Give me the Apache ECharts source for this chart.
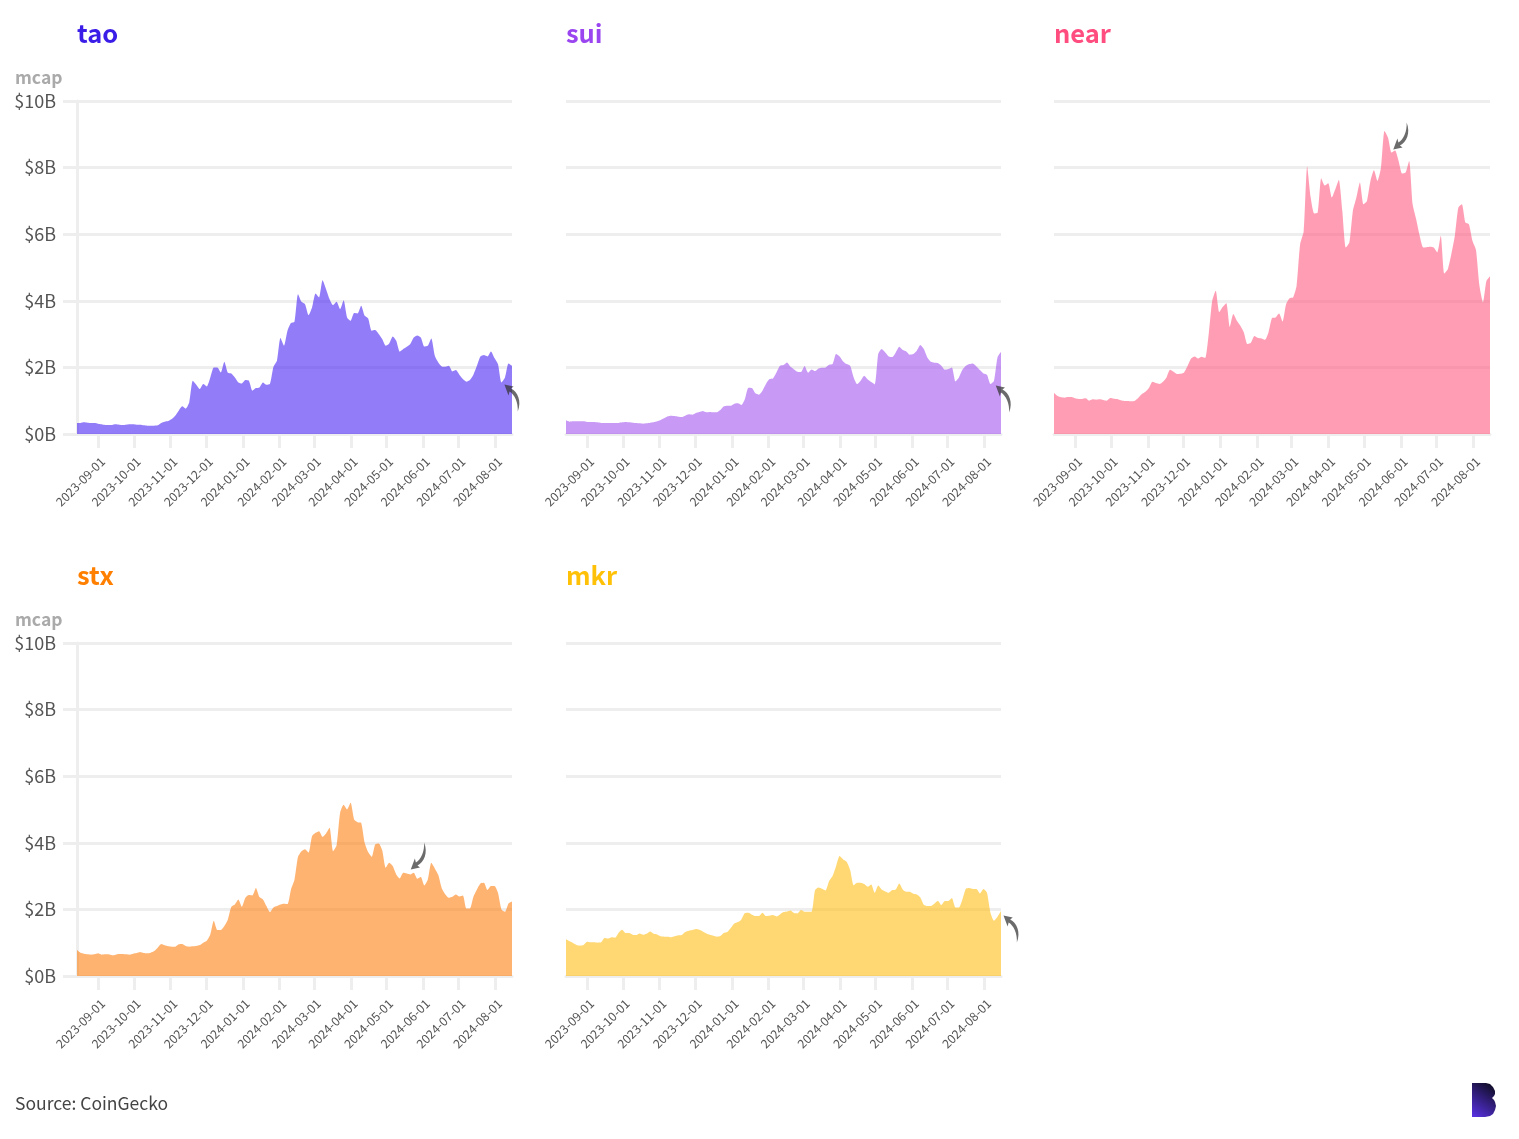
<!DOCTYPE html>
<html lang="en">
<head>
<meta charset="UTF-8">
<title>mcap</title>
<script src="https://cdn.jsdelivr.net/npm/echarts@6/dist/echarts.min.js"></script>
<style>
html, body { margin: 0; padding: 0; background: #fff; }
#main { width: 1519px; height: 1139px; }
</style>
</head>
<body>
<div id="main"></div>
<script type="text/javascript">
var FONT = '"Noto Sans CJK SC", "Noto Sans", sans-serif';

// market cap in $B, readings evenly spaced between startDate and endDate
var startDate = '2023-08-14';
var endDate = '2024-08-15';
var tickDates = ['2023-09-01', '2023-10-01', '2023-11-01', '2023-12-01', '2024-01-01', '2024-02-01',
                 '2024-03-01', '2024-04-01', '2024-05-01', '2024-06-01', '2024-07-01', '2024-08-01'];

var tao = [.33,.33,.35,.34,.33,.33,.31,.29,.27,.27,
  .27,.29,.28,.27,.28,.29,.29,.28,.28,.26,
  .25,.25,.25,.26,.33,.37,.39,.45,.55,.7,
  .83,.76,.95,1.6,1.48,1.35,1.5,1.43,1.7,2.0,
  2.0,1.85,2.17,1.84,1.82,1.7,1.55,1.52,1.62,1.6,
  1.3,1.38,1.4,1.55,1.48,1.5,2.02,2.2,2.88,2.65,
  3.1,3.33,3.37,4.2,3.97,3.9,3.57,3.8,4.22,4.1,
  4.62,4.35,4.05,3.87,3.97,3.75,4.02,3.5,3.4,3.63,
  3.62,3.85,3.55,3.47,3.1,3.12,3.0,2.85,2.65,2.72,
  2.93,2.8,2.47,2.55,2.62,2.7,2.9,2.96,2.9,2.63,
  2.65,2.87,2.35,2.15,2.03,2.02,2.05,1.88,1.92,1.78,
  1.65,1.57,1.62,1.78,2.05,2.33,2.37,2.33,2.48,2.28,
  2.1,1.55,1.7,2.12,2.05];

var sui = [.41,.37,.38,.38,.38,.38,.36,.36,.36,.35,
  .33,.33,.33,.33,.33,.33,.35,.36,.35,.34,
  .33,.32,.31,.32,.34,.35,.38,.42,.47,.53,
  .55,.54,.52,.51,.55,.59,.58,.63,.66,.69,
  .65,.66,.65,.65,.72,.83,.85,.85,.91,.92,
  .87,1.05,1.39,1.38,1.22,1.18,1.3,1.5,1.65,1.67,
  1.85,2.05,2.07,2.15,2.02,1.94,1.87,1.86,2.04,1.84,
  1.94,1.89,1.97,1.99,2.0,2.08,2.1,2.4,2.33,2.18,
  2.1,2.05,1.7,1.5,1.6,1.75,1.64,1.56,1.49,2.4,
  2.55,2.45,2.33,2.31,2.45,2.62,2.52,2.48,2.38,2.4,
  2.5,2.67,2.55,2.3,2.17,2.14,2.13,2.05,1.93,1.95,
  2.0,1.58,1.7,1.93,2.05,2.1,2.12,2.03,1.92,1.82,
  1.78,1.5,1.6,2.3,2.47];

var near = [1.24,1.14,1.1,1.09,1.11,1.11,1.07,1.05,1.05,1.07,
  1.0,1.04,1.03,1.04,1.02,1.0,1.08,1.06,1.05,1.01,
  .99,.99,.98,1.0,1.09,1.2,1.27,1.38,1.57,1.53,
  1.5,1.57,1.7,1.93,1.87,1.8,1.81,1.85,2.05,2.27,
  2.33,2.27,2.32,2.28,3.0,4.0,4.3,3.66,3.82,3.93,
  3.22,3.6,3.4,3.25,3.05,2.7,2.74,2.94,2.88,2.87,
  2.83,3.05,3.48,3.5,3.62,3.38,3.9,4.08,4.1,4.45,
  5.7,6.08,8.03,7.1,6.62,6.65,7.68,7.46,7.53,7.1,
  7.35,7.63,6.7,5.6,5.75,6.7,7.1,7.55,6.9,7.0,
  7.6,7.92,7.6,8.0,9.1,8.9,8.45,8.51,8.2,7.82,
  7.85,8.2,6.9,6.45,5.95,5.6,5.61,5.62,5.6,5.45,
  5.95,4.82,4.95,5.4,5.95,6.8,6.9,6.35,6.3,5.8,
  5.53,4.45,3.95,4.6,4.74];

var stx = [.78,.7,.67,.65,.64,.65,.68,.64,.65,.65,
  .62,.64,.66,.66,.65,.64,.67,.69,.72,.69,
  .68,.7,.75,.85,.96,.92,.89,.88,.88,.95,
  .96,.9,.88,.89,.9,.93,1.0,1.06,1.25,1.66,
  1.38,1.38,1.5,1.7,2.08,2.15,2.3,2.08,2.35,2.43,
  2.42,2.64,2.37,2.3,2.1,1.92,2.06,2.1,2.15,2.17,
  2.16,2.6,2.9,3.58,3.75,3.81,3.71,4.2,4.3,4.35,
  4.18,4.28,4.45,3.75,3.93,4.9,5.14,5.0,5.2,4.7,
  4.62,4.6,4.0,3.72,3.58,3.95,3.98,3.78,3.25,3.4,
  3.3,3.05,2.93,3.1,3.08,3.05,3.1,2.92,2.97,2.72,
  2.9,3.4,3.23,3.03,2.63,2.45,2.35,2.38,2.45,2.39,
  2.42,2.03,2.03,2.38,2.6,2.78,2.8,2.58,2.7,2.7,
  2.5,2.0,1.93,2.18,2.24];

var mkr = [1.1,1.04,.99,.93,.91,.93,1.03,1.01,1.01,1.0,
  1.01,1.14,1.12,1.16,1.15,1.3,1.39,1.29,1.29,1.24,
  1.23,1.28,1.24,1.27,1.34,1.27,1.25,1.19,1.18,1.18,
  1.16,1.19,1.22,1.23,1.32,1.36,1.38,1.41,1.39,1.34,
  1.28,1.24,1.21,1.18,1.2,1.29,1.32,1.45,1.58,1.62,
  1.7,1.89,1.9,1.84,1.8,1.8,1.9,1.8,1.81,1.83,
  1.79,1.85,1.92,1.94,1.97,1.89,1.88,1.98,1.93,1.93,
  1.93,2.58,2.66,2.62,2.57,2.85,3.0,3.3,3.6,3.5,
  3.43,3.18,2.72,2.8,2.8,2.76,2.68,2.75,2.5,2.72,
  2.6,2.54,2.5,2.58,2.6,2.78,2.6,2.53,2.53,2.47,
  2.45,2.36,2.14,2.1,2.1,2.17,2.26,2.13,2.25,2.25,
  2.34,2.06,2.06,2.3,2.62,2.64,2.61,2.61,2.48,2.61,
  2.5,1.9,1.66,1.78,1.95];

var names = ['tao', 'sui', 'near', 'stx', 'mkr'];
var values = [tao, sui, near, stx, mkr];
var titleColors = ['#3b1de8', '#9a45f0', '#ff4d80', '#ff7f00', '#ffc107'];
var fillColors = ['#4925f3', '#a355ee', '#ff5c82', '#ff8012', '#ffbe16'];

// where each curved arrow points
var arrowDates = ['2024-08-09', '2024-08-11', '2024-05-26', '2024-05-22', '2024-08-15'];
var arrowValues = [1.47, 1.44, 8.56, 3.21, 1.8];
var arrowUp = 'path://M0,0 L9,2 L6.5,4 C13,7 17,17 13,27 C13.5,18 10,10 5,7 L4,11 Z';
var arrowDown = 'path://M0,27 L9,25 L6.5,23 C13,20 17,10 13,0 C13.5,9 10,17 5,20 L4,16 Z';
var arrowSymbols = [arrowUp, arrowUp, arrowDown, arrowDown, arrowUp];
var arrowOffsets = [[7, 13], [7, 13], [7, -13], [7, -13], [10, 13]];

var gridLeft = [77, 566, 1054, 77, 566];
var gridTop = [101, 101, 101, 643, 643];
var gridWidth = [435, 435, 436, 435, 435];

function toTime(s) { return +new Date(s + 'T00:00:00'); }

var dates = [];
var step = (toTime(endDate) - toTime(startDate)) / (tao.length - 1);
for (var n = 0; n < tao.length; n++) {
    dates.push(toTime(startDate) + step * n);
}
var tickTimes = tickDates.map(toTime);

function dateLabel(v) {
    return echarts.time.format(v, '{yyyy}-{MM}-{dd}', false);
}

var GREY = '#eeeeee';
var grids = [], xAxes = [], yAxes = [], series = [], titles = [];

names.forEach(function (name, i) {
    var hasY = i === 0 || i === 3;
    grids.push({left: gridLeft[i], top: gridTop[i], width: gridWidth[i], height: 333});
    xAxes.push({
        type: 'value', gridIndex: i, min: toTime(startDate), max: toTime(endDate),
        axisLine: {show: true, lineStyle: {color: GREY, width: 3}},
        axisTick: {show: true, length: 14, customValues: tickTimes, lineStyle: {color: GREY, width: 3}},
        axisLabel: {
            customValues: tickTimes, rotate: 45, margin: 21, fontSize: 12.3, color: '#555555', fontFamily: FONT,
            verticalAlign: 'top', formatter: dateLabel
        },
        splitLine: {show: false}
    });
    yAxes.push({
        type: 'value', gridIndex: i, min: 0, max: 10, interval: 2,
        axisLine: {show: hasY, lineStyle: {color: GREY, width: 3}},
        axisTick: {show: hasY, length: 14, lineStyle: {color: GREY, width: 3}},
        axisLabel: {show: hasY, margin: 21, fontSize: 18, color: '#555555', fontFamily: FONT,
            padding: [2, 0, 0, 0], formatter: '${value}B'},
        splitLine: {show: true, lineStyle: {color: GREY, width: 3}}
    });
    series.push({
        name: name, type: 'line', xAxisIndex: i, yAxisIndex: i,
        data: values[i].map(function (v, k) { return [dates[k], v]; }),
        showSymbol: false, smooth: 0.2, lineStyle: {width: 0},
        areaStyle: {color: fillColors[i], opacity: 0.6},
        markPoint: {
            silent: true,
            symbol: arrowSymbols[i], symbolSize: [15, 27], symbolOffset: arrowOffsets[i],
            itemStyle: {color: 'rgba(50,50,50,0.72)'},
            label: {show: false},
            data: [{coord: [toTime(arrowDates[i]), arrowValues[i]]}]
        }
    });
    titles.push({
        text: name, padding: 0, left: gridLeft[i], top: gridTop[i] - 80,
        textStyle: {color: titleColors[i], fontSize: 25.5, fontWeight: 'bold', fontFamily: FONT}
    });
    if (hasY) {
        titles.push({
            text: 'mcap', padding: 0, left: 15, top: gridTop[i] - 32,
            textStyle: {color: '#aaaaaa', fontSize: 17.5, fontWeight: 'bold', fontFamily: FONT}
        });
    }
});

titles.push({text: 'Source: CoinGecko', padding: 0, left: 15, top: 1095, textStyle: {color: '#444444', fontSize: 17.5, fontWeight: 'normal', fontFamily: FONT}});

// logo outline
var logoPoints = [[1472,1083],[1486,1083],[1490,1084],[1493,1087],[1495,1091],[1495,1094],[1494,1096],[1492,1098],
                  [1494,1100],[1495,1102],[1496,1106],[1495,1110],[1493,1114],[1490,1116],[1485,1117],[1472,1117]];

var myChart = echarts.init(document.getElementById('main'));
myChart.setOption({
    animation: false,
    backgroundColor: '#ffffff',
    title: titles,
    grid: grids,
    xAxis: xAxes,
    yAxis: yAxes,
    series: series,
    graphic: [{
        type: 'polygon', silent: true,
        shape: {points: logoPoints},
        style: {
            fill: {type: 'linear', x: 1, y: 0, x2: 0, y2: 1, colorStops: [
                {offset: 0, color: '#0a0a14'}, {offset: 1, color: '#5a32e6'}
            ]}
        }
    }]
});
</script>
</body>
</html>
